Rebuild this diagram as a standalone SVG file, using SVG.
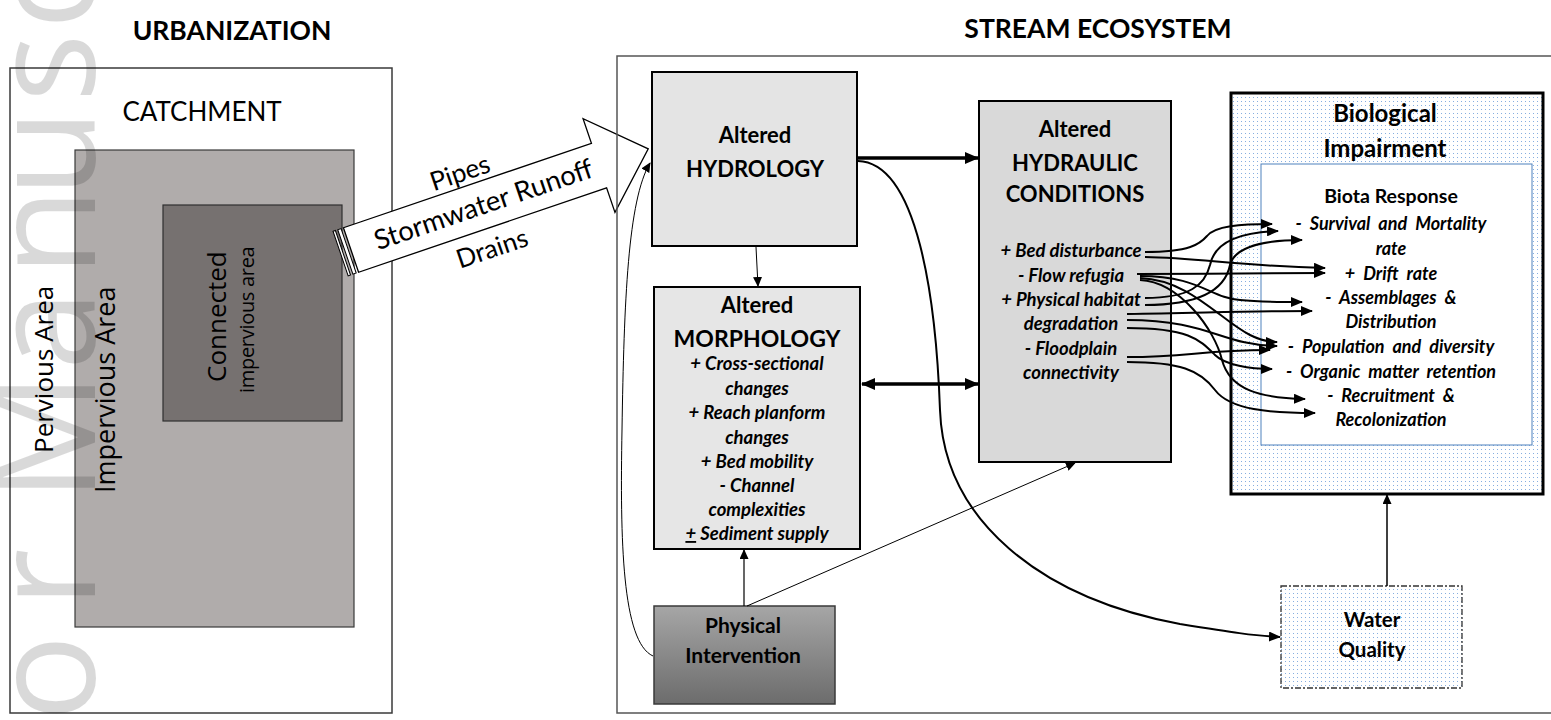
<svg xmlns="http://www.w3.org/2000/svg" width="1551" height="720" viewBox="0 0 1551 720">
<style>
.t{font-family:Lato,"Liberation Sans",sans-serif;fill:#000}
.o{font-family:"Open Sans","Liberation Sans",sans-serif;fill:#000}
.b{font-weight:bold}
.i{font-weight:bold;font-style:italic}
.c{text-anchor:middle}
.ln{fill:none;stroke:#000}
.tg{fill:none;stroke:#000;stroke-width:2;marker-end:url(#mMed)}
</style>
<defs>
<pattern id="dots" width="4" height="4" patternUnits="userSpaceOnUse">
<rect width="4" height="4" fill="#fff"/>
<rect x="1" y="1" width="1" height="1" fill="#86aee0"/>
</pattern>
<linearGradient id="gPhys" x1="0" y1="0" x2="0" y2="1">
<stop offset="0" stop-color="#a6a6a6"/>
<stop offset="1" stop-color="#6c6c6c"/>
</linearGradient>
<marker id="mThick" viewBox="0 0 14 12" markerWidth="14" markerHeight="12" refX="13" refY="6" orient="auto-start-reverse" markerUnits="userSpaceOnUse">
<path d="M0,0 L14,6 L0,12 z" fill="#000"/>
</marker>
<marker id="mMed" viewBox="0 0 12 10" markerWidth="12" markerHeight="10" refX="11" refY="5" orient="auto" markerUnits="userSpaceOnUse">
<path d="M0,0 L12,5 L0,10 z" fill="#000"/>
</marker>
<marker id="mThin" viewBox="0 0 10 9" markerWidth="10" markerHeight="9" refX="9" refY="4.5" orient="auto" markerUnits="userSpaceOnUse">
<path d="M0,0 L10,4.5 L0,9 z" fill="#000"/>
</marker>
</defs>

<rect width="1551" height="720" fill="#fff"/>

<text class="t b c" x="232" y="40" font-size="26.5">URBANIZATION</text>
<text class="t b c" x="1098" y="38" font-size="26.5">STREAM ECOSYSTEM</text>

<g id="catchment">
<rect x="10" y="68" width="382" height="645" fill="#fff" stroke="#3a3a3a" stroke-width="1.5"/>
<text class="t c" x="202" y="121" font-size="26">CATCHMENT</text>
<text class="o" transform="translate(53,453) rotate(-90)" font-size="26">Pervious Area</text>
</g>

<g id="impervious-area">
<rect x="75" y="150" width="279" height="477" fill="#b0acab" stroke="#3a3a3a" stroke-width="1.2"/>
<text class="o" transform="translate(115,493) rotate(-90)" font-size="27">Impervious Area</text>
</g>

<g id="connected-impervious">
<rect x="163" y="205" width="179" height="216" fill="#767170" stroke="#2f2f2f" stroke-width="1.2"/>
<text class="o" transform="translate(226,382) rotate(-90)" font-size="26">Connected</text>
<text class="o" transform="translate(254,393) rotate(-90)" font-size="20" letter-spacing="-0.3">impervious area</text>
</g>

<g id="stormwater-arrow" transform="translate(351,250) rotate(-18.8)">
<rect x="-11" y="-23.5" width="2.5" height="47" fill="#fff" stroke="#000" stroke-width="1"/>
<rect x="-6" y="-23.5" width="3.5" height="47" fill="#fff" stroke="#000" stroke-width="1"/>
<polygon points="0,-23.5 262,-23.5 262,-49.5 314,0 262,49.5 262,23.5 0,23.5" fill="#fff" stroke="#000" stroke-width="1.3"/>
<text class="t c" x="128" y="-29" font-size="26">Pipes</text>
<text class="t c" x="140" y="9" font-size="27.5">Stormwater Runoff</text>
<text class="t c" x="134" y="53" font-size="26">Drains</text>
</g>

<g id="stream-ecosystem">
<rect x="617" y="56" width="1000" height="657" fill="none" stroke="#555" stroke-width="1.5"/>
</g>

<g id="hydrology">
<rect x="652" y="72" width="205" height="174" fill="#e4e4e4" stroke="#000" stroke-width="2"/>
<text class="t b c" x="755" y="143" font-size="22">Altered</text>
<text class="t b c" x="755" y="177" font-size="22">HYDROLOGY</text>
</g>

<g id="morphology">
<rect x="654" y="287" width="206" height="262" fill="#e6e6e6" stroke="#000" stroke-width="2"/>
<text class="t b c" x="757" y="313" font-size="22">Altered</text>
<text class="t b c" x="757" y="347" font-size="23">MORPHOLOGY</text>
<text class="t i c" x="757" y="370" font-size="18.5">+ Cross-sectional</text>
<text class="t i c" x="757" y="395" font-size="18.5">changes</text>
<text class="t i c" x="757" y="419" font-size="18.5">+ Reach planform</text>
<text class="t i c" x="757" y="444" font-size="18.5">changes</text>
<text class="t i c" x="757" y="468" font-size="18.5">+ Bed mobility</text>
<text class="t i c" x="757" y="492" font-size="18.5">- Channel</text>
<text class="t i c" x="757" y="516" font-size="18.5">complexities</text>
<text class="t i c" x="757" y="540" font-size="18.5"><tspan text-decoration="underline">+</tspan> Sediment supply</text>
</g>

<g id="hydraulic">
<rect x="979" y="101" width="192" height="361" fill="#d9d9d9" stroke="#000" stroke-width="2"/>
<text class="t b c" x="1075" y="137" font-size="22">Altered</text>
<text class="t b c" x="1075" y="171" font-size="22">HYDRAULIC</text>
<text class="t b c" x="1075" y="202" font-size="22">CONDITIONS</text>
<text class="t i c" x="1071" y="257" font-size="18.5">+ Bed disturbance</text>
<text class="t i c" x="1071" y="282" font-size="18.5">- Flow  refugia</text>
<text class="t i c" x="1071" y="306" font-size="18.5">+ Physical habitat</text>
<text class="t i c" x="1071" y="330" font-size="18.5">degradation</text>
<text class="t i c" x="1071" y="355" font-size="18.5">- Floodplain</text>
<text class="t i c" x="1071" y="379" font-size="18.5">connectivity</text>
</g>

<g id="biological-impairment">
<rect x="1231" y="93" width="312" height="401" fill="url(#dots)" stroke="#000" stroke-width="3"/>
<text class="t b c" x="1385" y="122" font-size="24">Biological</text>
<text class="t b c" x="1385" y="157" font-size="24">Impairment</text>
</g>

<g id="biota-response">
<rect x="1261" y="164" width="271" height="281" fill="#fff" stroke="#4f81bd" stroke-width="1"/>
<text class="t b c" x="1391" y="203" font-size="19.5">Biota Response</text>
<g class="t i" text-anchor="middle" font-size="18" word-spacing="4">
<text x="1391" y="230">- Survival and Mortality</text>
<text x="1391" y="255">rate</text>
<text x="1391" y="280">+ Drift rate</text>
<text x="1391" y="304">- Assemblages &amp;</text>
<text x="1391" y="328">Distribution</text>
<text x="1391" y="353">- Population and diversity</text>
<text x="1391" y="378">- Organic matter retention</text>
<text x="1391" y="402">- Recruitment &amp;</text>
<text x="1391" y="426">Recolonization</text>
</g>
</g>

<g id="water-quality">
<rect x="1281" y="586" width="181" height="102" fill="url(#dots)" stroke="#333" stroke-width="1.3" stroke-dasharray="6 2 2 2"/>
<text class="t b c" x="1372" y="627" font-size="20.5">Water</text>
<text class="t b c" x="1372" y="657" font-size="20.5">Quality</text>
</g>

<g id="physical-intervention">
<rect x="654" y="606" width="181" height="98" fill="url(#gPhys)" stroke="#3a3a3a" stroke-width="1.5"/>
<text class="t b c" x="743" y="633" font-size="21">Physical</text>
<text class="t b c" x="743" y="663" font-size="21">Intervention</text>
</g>

<g id="connectors">
<line class="ln" x1="857" y1="158" x2="978" y2="158" stroke-width="3.5" marker-end="url(#mThick)"/>
<line class="ln" x1="862" y1="384" x2="978" y2="384" stroke-width="3.5" marker-start="url(#mThick)" marker-end="url(#mThick)"/>
<line class="ln" x1="756" y1="247" x2="758" y2="286" stroke-width="1" marker-end="url(#mThin)"/>
<line class="ln" x1="744" y1="606" x2="744" y2="550" stroke-width="1.2" marker-end="url(#mThin)"/>
<line class="ln" x1="747" y1="606" x2="1075" y2="463" stroke-width="1" marker-end="url(#mThin)"/>
<path class="ln" d="M653,656 C622,642 620,540 622,430 C624,300 628,200 650,163" stroke-width="1" marker-end="url(#mThin)"/>
<path class="ln" d="M858,161 C918,163 936,300 940,410 C944,520 1040,598 1180,624 C1230,632 1255,636 1280,637" stroke-width="2" marker-end="url(#mMed)"/>
<line class="ln" x1="1387" y1="586" x2="1387" y2="495" stroke-width="1.5" marker-end="url(#mThin)"/>

<path class="tg" d="M1145,252 C1190,252 1200,244 1207,236 C1215,226 1240,224 1272,224"/>
<path class="tg" d="M1145,257 C1200,258 1240,266 1325,268"/>
<path class="tg" d="M1137,274 C1200,274 1260,273 1325,273"/>
<path class="tg" d="M1140,276 C1200,276 1210,298 1240,300 C1260,302 1280,302 1302,302"/>
<path class="tg" d="M1140,278 C1190,280 1220,320 1250,335 C1260,340 1268,342 1277,342"/>
<path class="tg" d="M1140,280 C1180,282 1215,330 1222,360 C1230,390 1260,398 1305,399"/>
<path class="tg" d="M1145,298 C1190,298 1205,285 1210,265 C1215,240 1245,232 1278,231"/>
<path class="tg" d="M1145,305 C1200,305 1225,290 1230,265 C1235,245 1270,240 1302,240"/>
<path class="tg" d="M1127,314 C1200,313 1250,311 1312,311"/>
<path class="tg" d="M1127,320 C1210,320 1220,345 1277,346"/>
<path class="tg" d="M1127,328 C1190,328 1200,340 1215,355 C1225,365 1250,369 1272,369"/>
<path class="tg" d="M1127,357 C1190,357 1200,350 1270,350"/>
<path class="tg" d="M1127,362 C1180,362 1200,370 1215,390 C1230,410 1270,413 1315,413"/>
</g>

<g id="watermark" fill="#000" fill-opacity="0.15" font-family="'Open Sans','DejaVu Sans',sans-serif" font-size="144" text-anchor="middle" transform="translate(95,0) rotate(-90)">
<text x="-678" y="0">o</text>
<text x="-578" y="0">r</text>
<text x="-437" y="0">M</text>
<text x="-330" y="0">a</text>
<text x="-232" y="0">n</text>
<text x="-153" y="0">u</text>
<text x="-68" y="0">s</text>
<text x="5" y="0">c</text>
</g>
</svg>
